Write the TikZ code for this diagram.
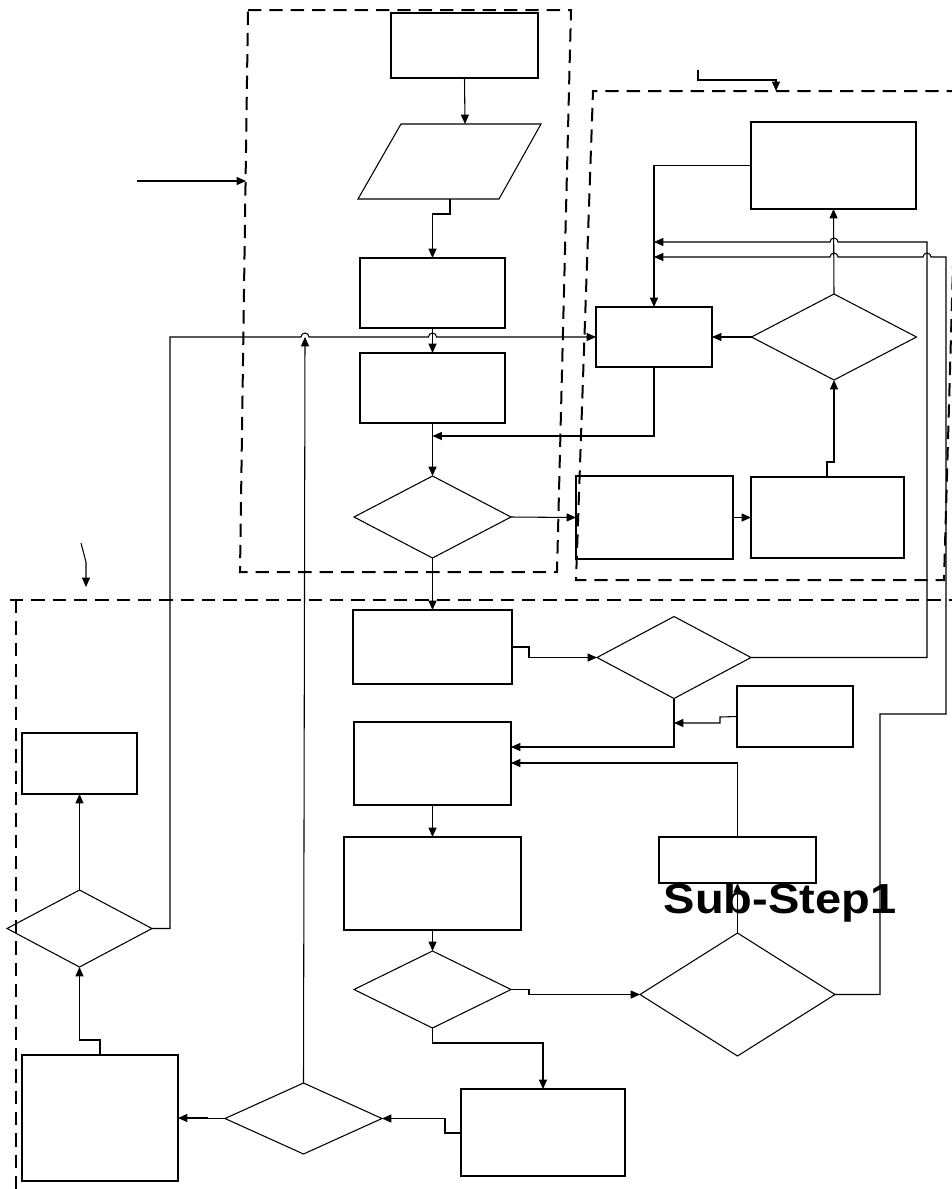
\documentclass[tikz,border=0pt]{standalone}
\usepackage{fontspec}
\usepackage{graphicx}
\newfontfamily\labfont{Liberation Sans}
\usetikzlibrary{arrows.meta,shapes.geometric}
\begin{document}
\begin{tikzpicture}[x=0.75pt,y=-0.75pt,
  line width=0.8pt, draw=black,
  box/.style={draw, rectangle, inner sep=0pt, outer sep=0pt},
  dia/.style={draw, diamond, inner sep=0pt, outer sep=0pt},
  arr/.style={-{Triangle[length=7pt,width=6pt]}},
  region/.style={draw=black, line width=1.5pt, dash pattern=on 10pt off 6pt},
]
\useasboundingbox (0,0) rectangle (952,1189);

% dashed regions
\draw[region] (248,10) -- (571,10) -- (557,572) -- (240,572) -- cycle;
\draw[region] (960,91) -- (593,91) -- (576,580) -- (944,580) -- (958,91);
\draw[region] (10,600) -- (960,600);
\draw[region] (16,600) -- (16,1195);

% nodes
\node[box, minimum width=147*0.75pt, minimum height=65*0.75pt] (A) at (464.5,45.5) {};
\draw (401,124) -- (541,124) -- (499,199) -- (358,199) -- cycle;
\coordinate (Btop) at (465,124);
\coordinate (Bbot) at (450,199);
\node[box, minimum width=145*0.75pt, minimum height=70*0.75pt] (C) at (432.5,293) {};
\node[box, minimum width=145*0.75pt, minimum height=70*0.75pt] (D) at (432.5,388) {};
\node[dia, minimum width=157*0.75pt, minimum height=82*0.75pt] (F) at (432.5,517) {};
\node[box, minimum width=116*0.75pt, minimum height=60*0.75pt] (E) at (654,337) {};
\node[box, minimum width=157*0.75pt, minimum height=83*0.75pt] (G) at (654.5,517.5) {};
\node[box, minimum width=153*0.75pt, minimum height=81*0.75pt] (H) at (827.5,517.5) {};
\node[dia, minimum width=165*0.75pt, minimum height=86*0.75pt] (I) at (834,337) {};
\node[box, minimum width=165*0.75pt, minimum height=87*0.75pt] (J) at (833.5,165.5) {};
\node[box, minimum width=159*0.75pt, minimum height=74*0.75pt] (O) at (432.5,647) {};
\node[dia, minimum width=154*0.75pt, minimum height=82*0.75pt] (K) at (674,657.5) {};
\node[box, minimum width=116*0.75pt, minimum height=61*0.75pt] (P) at (795,716.5) {};
\node[box, minimum width=157*0.75pt, minimum height=83*0.75pt] (N) at (432.5,763.5) {};
\node[box, minimum width=157*0.75pt, minimum height=46*0.75pt] (M) at (737.5,860) {};
\node[box, minimum width=177*0.75pt, minimum height=93*0.75pt] (Q) at (432.5,883.5) {};
\node[dia, minimum width=157*0.75pt, minimum height=77*0.75pt] (R) at (432.5,989.5) {};
\node[dia, minimum width=195*0.75pt, minimum height=123*0.75pt] (L) at (737.5,994.5) {};
\node[box, minimum width=164*0.75pt, minimum height=87*0.75pt] (S) at (543,1132.5) {};
\node[dia, minimum width=157*0.75pt, minimum height=71*0.75pt] (U) at (303.5,1118.5) {};
\node[box, minimum width=156*0.75pt, minimum height=126*0.75pt] (T) at (100,1118) {};
\node[dia, minimum width=145*0.75pt, minimum height=77*0.75pt] (Ld) at (79.5,928.5) {};
\node[box, minimum width=115*0.75pt, minimum height=61*0.75pt] (V) at (79.5,763.5) {};

% connectors
\draw[arr] (A.south) -- (Btop);
\draw[arr] (Bbot) -- (450,214) -- (432.5,214) -- (C.north);
\draw[arr] (C.south) -- (D.north);
\draw[arr] (Ld.east) -- (170,928.5) -- (170,337) -- (301,337) arc (180:360:4) -- (428.5,337) arc (180:360:4) -- (E.west);
\draw[arr] (U.north) -- (305,337);
\draw[arr] (D.south) -- (F.north);
\draw[arr] (E.south) -- (654,436) -- (432.5,436);
\draw[arr] (F.east) -- (G.west);
\draw[arr] (G.east) -- (H.west);
\draw[arr] (827,477) -- (827,462) -- (834,462) -- (I.south);
\draw[arr] (I.west) -- (E.east);
\draw[arr] (I.north) -- (J.south);
\draw[arr] (J.west) -- (654,165.5) -- (E.north);
\draw[arr] (K.east) -- (927,657.5) -- (927,242) -- (838,242) arc (0:-180:4) -- (654,242);
\draw[arr] (L.east) -- (880,994.5) -- (880,714) -- (946,714) -- (946,257) -- (931,257) arc (0:-180:4) -- (838,257) arc (0:-180:4) -- (654,257);
\draw[arr] (F.south) -- (O.north);
\draw[arr] (512,647) -- (529,647) -- (529,657.5) -- (K.west);
\draw[arr] (K.south) -- (674,747) -- (511,747);
\draw[arr] (P.west) -- (720,717) -- (720,723) -- (674,723);
\draw[arr] (M.north) -- (737.5,763) -- (511,763);
\draw[arr] (L.north) -- (M.south);
\draw[arr] (N.south) -- (Q.north);
\draw[arr] (Q.south) -- (R.north);
\draw[arr] (R.east) -- (529,989.5) -- (529,994.5) -- (L.west);
\draw[arr] (R.south) -- (432.5,1043) -- (543,1043) -- (S.north);
\draw[arr] (461,1133) -- (445,1133) -- (445,1118.5) -- (U.east);
\draw[arr] (U.west) -- (207,1118.5) -- (207,1118) -- (T.east);
\draw[arr] (T.north) -- (100,1040) -- (79.5,1040) -- (Ld.south);
\draw[arr] (Ld.north) -- (V.south);

% pointer arrows
\coordinate (p1s) at (137,181);
\coordinate (p1e) at (246,181);
\draw[arr] (p1s) -- (p1e);
\coordinate (p2s) at (698,70);
\coordinate (p2e) at (776,91);
\draw[arr] (p2s) -- (698,80) -- (776,80) -- (p2e);
\coordinate (p3s) at (81,543);
\coordinate (p3e) at (86,587);
\draw[arr] (p3s) -- (86,562) -- (p3e);

% label
\node[anchor=base, inner sep=0pt] (sub) at (780,913) {\labfont\bfseries\fontsize{31.5}{31.5}\selectfont\scalebox{1.12}[1]{Sub-Step1}};
\end{tikzpicture}
\end{document}
